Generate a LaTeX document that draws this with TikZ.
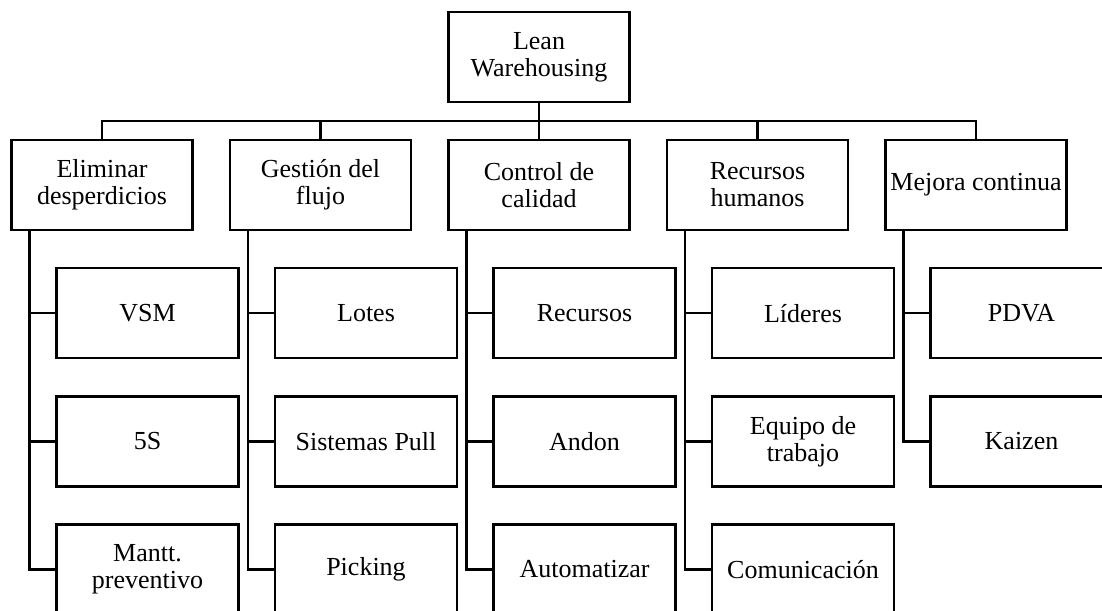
\documentclass[tikz,border=0pt]{standalone}
\usepackage{fontspec}
\setmainfont{Liberation Serif}
\begin{document}
\begin{tikzpicture}[x=1pt,y=-1pt,
  lvl/.style={draw,line width=2.3pt,minimum width=181pt,minimum height=90pt,inner sep=0pt,align=center,font=\fontsize{26}{27}\selectfont},
  kid/.style={lvl,minimum width=182pt},
  conn/.style={line width=2.3pt}]
\clip (0,0) rectangle (1102,610);
\fill[white] (0,0) rectangle (1102,610);
% root
\node[lvl] (root) at (539,57) {Lean\\Warehousing};
% level 1
\node[lvl] (l1) at (102,185) {Eliminar\\desperdicios};
\node[lvl] (l2) at (320.5,185) {Gestión del\\flujo};
\node[lvl] (l3) at (539,185) {Control de\\calidad};
\node[lvl] (l4) at (757.5,185) {Recursos\\humanos};
\node[lvl] (l5) at (976,185) {Mejora continua};
% children
\node[kid] (c11) at (147.5,313.3) {VSM};
\node[kid] (c12) at (147.5,441.5) {5S};
\node[kid] (c13) at (147.5,569.5) {Mantt.\\preventivo};
\node[kid] (c21) at (366,313.3) {Lotes};
\node[kid] (c22) at (366,441.5) {Sistemas Pull};
\node[kid] (c23) at (366,569.5) {Picking};
\node[kid] (c31) at (584.5,313.3) {Recursos};
\node[kid] (c32) at (584.5,441.5) {Andon};
\node[kid] (c33) at (584.5,569.5) {Automatizar};
\node[kid] (c41) at (803,313.3) {Líderes};
\node[kid] (c42) at (803,441.5) {Equipo de\\trabajo};
\node[kid] (c43) at (803,569.5) {Comunicación};
\node[kid] (c51) at (1021.5,313.3) {PDVA};
\node[kid] (c52) at (1021.5,441.5) {Kaizen};
% bus
\coordinate (bus) at (539,121);
\draw[conn] (root.south) -- (bus);
\draw[conn] (l1.north) |- (bus) -| (l5.north);
\draw[conn] (l2.north) -- (l2.north |- bus);
\draw[conn] (l3.north) -- (l3.north |- bus);
\draw[conn] (l4.north) -- (l4.north |- bus);
% trunks
\coordinate (t1) at ([xshift=19pt]l1.south west);
\coordinate (t2) at ([xshift=19pt]l2.south west);
\coordinate (t3) at ([xshift=19pt]l3.south west);
\coordinate (t4) at ([xshift=19pt]l4.south west);
\coordinate (t5) at ([xshift=19pt]l5.south west);
\draw[conn] (t1) |- (c13.west);
\draw[conn] (c11.west) -- (c11.west -| t1);
\draw[conn] (c12.west) -- (c12.west -| t1);
\draw[conn] (t2) |- (c23.west);
\draw[conn] (c21.west) -- (c21.west -| t2);
\draw[conn] (c22.west) -- (c22.west -| t2);
\draw[conn] (t3) |- (c33.west);
\draw[conn] (c31.west) -- (c31.west -| t3);
\draw[conn] (c32.west) -- (c32.west -| t3);
\draw[conn] (t4) |- (c43.west);
\draw[conn] (c41.west) -- (c41.west -| t4);
\draw[conn] (c42.west) -- (c42.west -| t4);
\draw[conn] (t5) |- (c52.west);
\draw[conn] (c51.west) -- (c51.west -| t5);
\end{tikzpicture}
\end{document}
